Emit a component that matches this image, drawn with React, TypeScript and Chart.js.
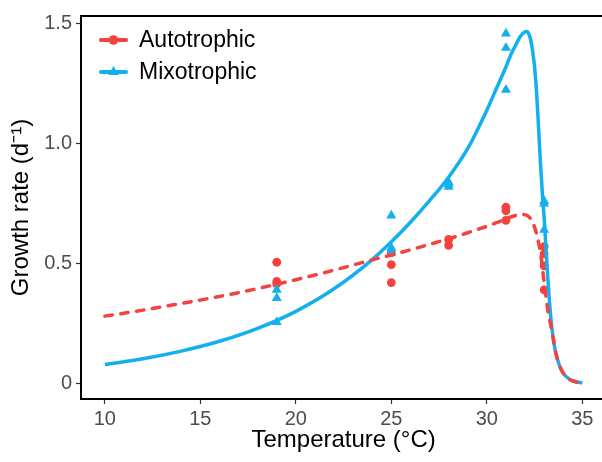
import React, { useEffect, useRef } from 'react';
import { Chart, registerables } from 'chart.js';

Chart.register(...registerables);

const FONT = "'Liberation Sans', Arial, Helvetica, sans-serif";
const RED = '#F4433F';
const BLUE = '#12B0EE';

// Observed data points
const autoTemp = [19, 19, 19, 25, 25, 25, 28, 28, 31, 31, 31, 33, 33, 33, 33];
const autoGrowth = [0.505, 0.425, 0.415, 0.545, 0.495, 0.42, 0.6, 0.575, 0.735, 0.72, 0.68, 0.57, 0.54, 0.49, 0.39];
const mixoTemp = [19, 19, 19, 25, 25, 25, 28, 28, 28, 31, 31, 31, 33, 33, 33];
const mixoGrowth = [0.39, 0.355, 0.255, 0.7, 0.565, 0.545, 0.84, 0.83, 0.82, 1.46, 1.4, 1.225, 0.76, 0.75, 0.64];

// Fitted curves
const autoCurveTemp = [10, 12, 14, 16, 18, 20, 22, 24, 25, 26, 28, 29, 30, 30.5, 31, 31.5, 31.8, 32.0, 32.2, 32.4, 32.6, 32.7, 32.8, 32.9, 33.0, 33.1, 33.2, 33.3, 33.4, 33.5, 33.6, 33.8, 34.0, 34.3, 34.6, 35];
const autoCurveGrowth = [0.28, 0.305, 0.333, 0.362, 0.395, 0.432, 0.472, 0.515, 0.535, 0.557, 0.603, 0.628, 0.655, 0.67, 0.686, 0.7, 0.705, 0.703, 0.695, 0.672, 0.625, 0.59, 0.55, 0.49, 0.42, 0.36, 0.3, 0.26, 0.22, 0.175, 0.13, 0.075, 0.042, 0.018, 0.007, 0.002];
const mixoCurveTemp = [10, 12, 14, 16, 18, 20, 22, 24, 25, 26, 27, 28, 29, 30, 30.5, 31, 31.25, 31.5, 31.75, 32.0, 32.1, 32.2, 32.3, 32.4, 32.5, 32.6, 32.7, 32.8, 32.9, 33.0, 33.1, 33.2, 33.3, 33.4, 33.5, 33.6, 33.8, 34.0, 34.3, 34.6, 35];
const mixoCurveGrowth = [0.078, 0.102, 0.134, 0.175, 0.229, 0.3, 0.394, 0.516, 0.59, 0.672, 0.762, 0.86, 0.98, 1.14, 1.23, 1.32, 1.37, 1.41, 1.447, 1.467, 1.468, 1.458, 1.432, 1.385, 1.32, 1.22, 1.08, 0.93, 0.8, 0.69, 0.56, 0.43, 0.32, 0.235, 0.175, 0.13, 0.075, 0.042, 0.018, 0.007, 0.002];

const xTicks = [10, 15, 20, 25, 30, 35];
const yTicks = [0, 0.5, 1.0, 1.5];
const legendLabels = ['Autotrophic', 'Mixotrophic'];

const toXY = (xs: number[], ys: number[]) => xs.map((x, i) => ({ x, y: ys[i] }));

const legendPlugin = {
  id: 'insideLegend',
  afterDraw(chart: any) {
    const ctx = chart.ctx as CanvasRenderingContext2D;
    const items = [
      { text: legendLabels[0], color: RED, shape: 'circle' },
      { text: legendLabels[1], color: BLUE, shape: 'triangle' },
    ];
    ctx.save();
    items.forEach((it, i) => {
      const cy = 40 + i * 32;
      const cx = 113.5;
      ctx.strokeStyle = it.color;
      ctx.fillStyle = it.color;
      ctx.lineWidth = 4.2;
      ctx.lineCap = 'round';
      ctx.beginPath();
      ctx.moveTo(101, cy);
      ctx.lineTo(126, cy);
      ctx.stroke();
      ctx.beginPath();
      if (it.shape === 'circle') {
        ctx.arc(cx, cy, 4.8, 0, Math.PI * 2);
      } else {
        const r = 6;
        ctx.moveTo(cx, cy - r);
        ctx.lineTo(cx + 0.866 * r, cy + 0.5 * r);
        ctx.lineTo(cx - 0.866 * r, cy + 0.5 * r);
        ctx.closePath();
      }
      ctx.fill();
      ctx.fillStyle = '#000';
      ctx.font = `23px ${FONT}`;
      ctx.textBaseline = 'middle';
      ctx.textAlign = 'left';
      ctx.fillText(it.text, 139, cy + 1);
    });
    ctx.restore();
  },
};

export default function App() {
  const ref = useRef<HTMLCanvasElement>(null);
  useEffect(() => {
    const canvas = ref.current!;
    const chart = new Chart(canvas, {
      type: 'line',
      data: {
        datasets: [
          {
            label: 'Autotrophic fit',
            data: toXY(autoCurveTemp, autoCurveGrowth),
            borderColor: RED,
            borderWidth: 3.5,
            borderDash: [7.5, 8.5],
            borderCapStyle: 'round',
            pointRadius: 0,
            cubicInterpolationMode: 'monotone',
            fill: false,
            order: 0,
          } as any,
          {
            label: 'Mixotrophic fit',
            data: toXY(mixoCurveTemp, mixoCurveGrowth),
            borderColor: BLUE,
            borderWidth: 3.5,
            pointRadius: 0,
            cubicInterpolationMode: 'monotone',
            fill: false,
            order: 1,
          } as any,
          {
            label: 'Mixotrophic',
            data: toXY(mixoTemp, mixoGrowth),
            showLine: false,
            pointStyle: 'triangle',
            pointRadius: 5.8,
            pointBackgroundColor: BLUE,
            pointBorderColor: BLUE,
            pointBorderWidth: 0,
            order: 2,
          } as any,
          {
            label: 'Autotrophic',
            data: toXY(autoTemp, autoGrowth),
            showLine: false,
            pointStyle: 'circle',
            pointRadius: 4.4,
            pointBackgroundColor: RED,
            pointBorderColor: RED,
            pointBorderWidth: 0,
            order: 3,
          } as any,
        ],
      },
      options: {
        responsive: false,
        animation: false,
        devicePixelRatio: 1,
        events: [],
        layout: { padding: { top: 11, right: 5, left: 0, bottom: 0 } },
        plugins: { legend: { display: false }, tooltip: { enabled: false } },
        scales: {
          x: {
            type: 'linear',
            position: 'bottom',
            min: 8.75,
            max: 36.25,
            afterBuildTicks: (s: any) => {
              s.ticks = xTicks.map((value) => ({ value }));
            },
            afterFit: (s: any) => {
              s.height = 63;
            },
            ticks: {
              font: { family: FONT, size: 20 },
              color: '#4D4D4D',
              padding: 3,
              maxRotation: 0,
              callback: (v: any) => String(v),
            },
            grid: { display: true, drawOnChartArea: false, drawTicks: true, tickLength: 5, tickColor: '#333', tickWidth: 1.2 },
            border: { display: true, color: '#000', width: 2 },
            title: {
              display: true,
              text: 'Temperature (°C)',
              font: { family: FONT, size: 24 },
              color: '#000',
              padding: { top: 0, bottom: 7 },
            },
          },
          xTop: {
            type: 'linear',
            position: 'top',
            min: 8.75,
            max: 36.25,
            afterFit: (s: any) => {
              s.height = 0;
            },
            ticks: { display: false },
            grid: { display: false },
            border: { display: true, color: '#000', width: 2 },
          },
          y: {
            type: 'linear',
            min: -0.066,
            max: 1.533,
            afterBuildTicks: (s: any) => {
              s.ticks = yTicks.map((value) => ({ value }));
            },
            afterFit: (s: any) => {
              s.width = 81;
            },
            ticks: {
              font: { family: FONT, size: 20 },
              color: '#4D4D4D',
              padding: 4,
              callback: (v: any) => (v === 0 ? '0' : Number(v).toFixed(1)),
            },
            grid: { display: true, drawOnChartArea: false, drawTicks: true, tickLength: 5, tickColor: '#333', tickWidth: 1.2 },
            border: { display: true, color: '#000', width: 2 },
            title: {
              display: true,
              text: 'Growth rate (d\u207B\u00B9)',
              font: { family: FONT, size: 24 },
              color: '#000',
              padding: { top: 7, bottom: 0 },
            },
          },
        },
      } as any,
      plugins: [legendPlugin],
    });
    return () => chart.destroy();
  }, []);
  return (
    <div style={{ position: 'fixed', left: 0, top: 0, width: 602, height: 462, overflow: 'hidden', background: '#fff' }}>
      <canvas ref={ref} width={612} height={462} style={{ display: 'block', width: 612, height: 462 }} />
    </div>
  );
}
